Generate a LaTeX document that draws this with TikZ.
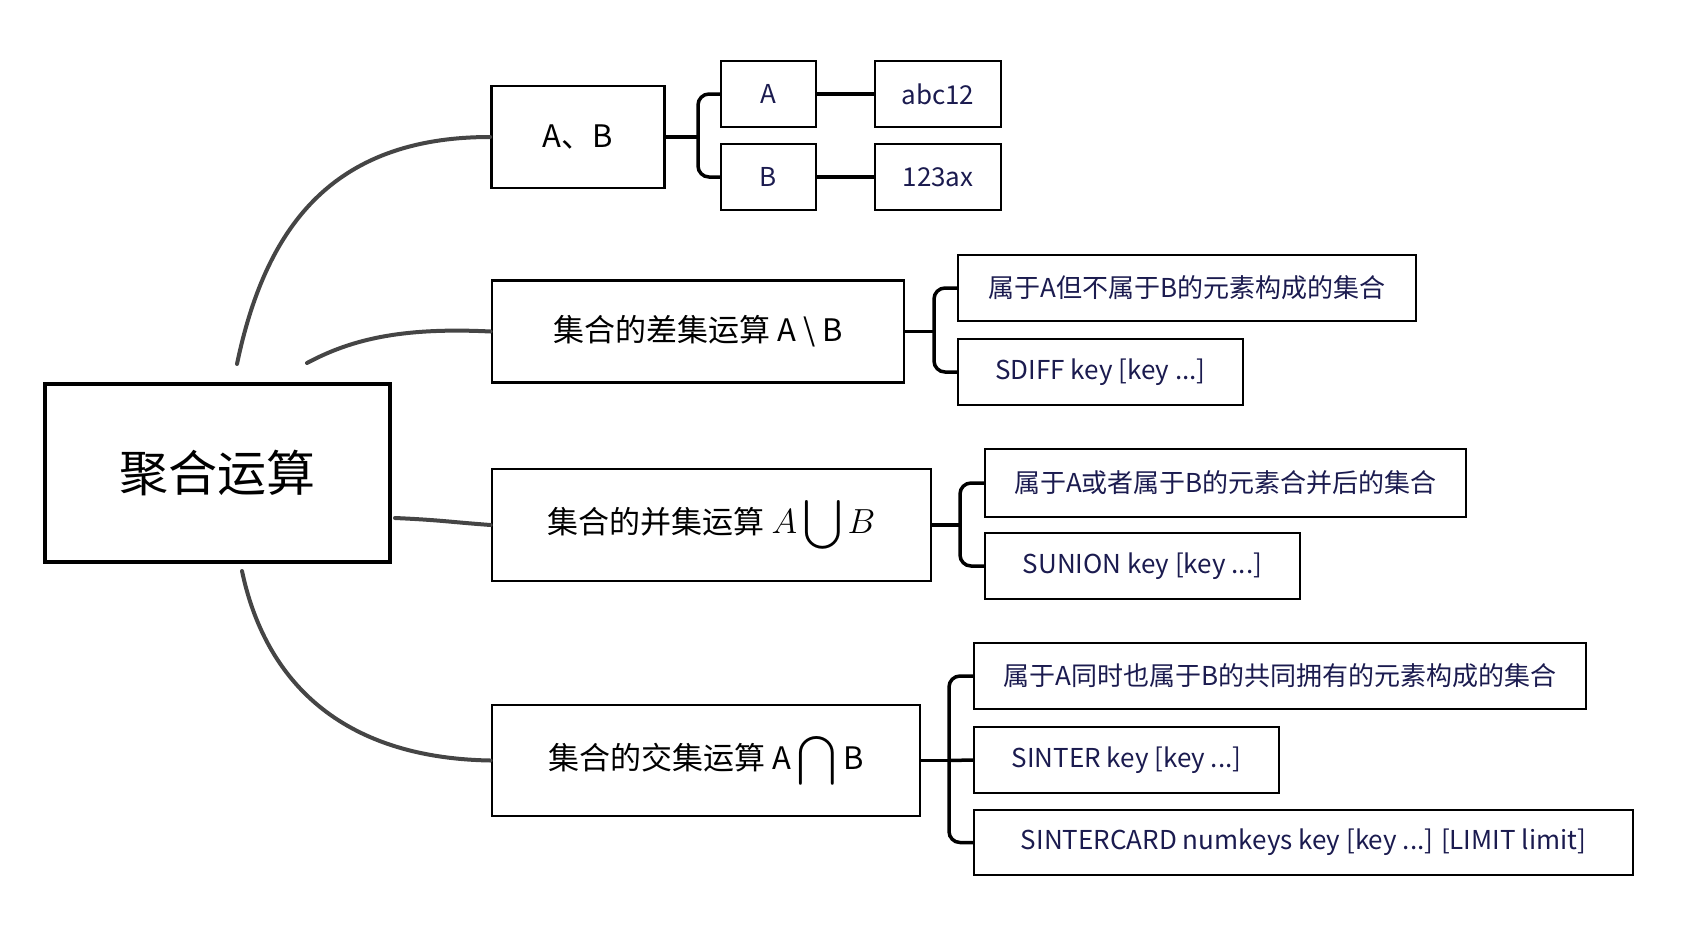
\documentclass[tikz,border=0pt]{standalone}
\usepackage{amsmath}
\usepackage{fontspec}
\setmainfont{Noto Sans CJK SC}
\definecolor{inkblue}{HTML}{1B1B4F}
\definecolor{branchgray}{HTML}{454545}
\tikzset{
  rootbox/.style={draw, line width=4.5pt, minimum width=345pt, minimum height=178pt, inner sep=0pt, font=\fontsize{49}{56}\selectfont},
  opbox/.style={draw, line width=2.8pt, minimum height=102pt, inner sep=0pt, font=\fontsize{31}{36}\selectfont},
  leafbox/.style={draw, line width=2.2pt, minimum height=66pt, inner sep=0pt, text=inkblue, font=\fontsize{26}{30}\selectfont},
  branch/.style={draw=branchgray, line width=4pt, line cap=round},
  brace/.style={draw, line width=3.5pt, rounded corners=11pt},
}
\newcommand\bigop[1]{\scalebox{1.4}{$#1$}}

\begin{document}
\begin{tikzpicture}[x=1pt, y=-1pt]
\useasboundingbox (0,0) rectangle (1688,932);
% root
\node[rootbox] (root) at (217.5,473) {聚合运算};
% operations
\node[opbox, minimum width=173pt] (ab) at (578,137) {A、B};
\node[opbox, minimum width=412pt] (diff) at (698,331.5) {集合的差集运算 A \textbackslash{} B};
\node[opbox, minimum width=439pt, minimum height=112pt] (union) at (711.5,525) {集合的并集运算 \bigop{A\displaystyle\bigcup B}};
\node[opbox, minimum width=428pt, minimum height=111pt] (inter) at (706,760.5) {集合的交集运算 A \bigop{\displaystyle\bigcap} B};
% leaves
\node[leafbox, minimum width=95pt] (a) at (768.5,94) {A};
\node[leafbox, minimum width=95pt] (b) at (768.5,177) {B};
\node[leafbox, minimum width=126pt] (abc) at (938,94) {abc12};
\node[leafbox, minimum width=126pt] (ax) at (938,177) {123ax};
\node[leafbox, minimum width=458pt] (diffdesc) at (1187,288) {属于A但不属于B的元素构成的集合};
\node[leafbox, minimum width=285pt] (diffcmd) at (1100.5,372) {SDIFF key [key ...]};
\node[leafbox, minimum width=481pt, minimum height=68pt] (unidesc) at (1225.5,483) {属于A或者属于B的元素合并后的集合};
\node[leafbox, minimum width=315pt] (unicmd) at (1142.5,566) {SUNION key [key ...]};
\node[leafbox, minimum width=612pt] (intdesc) at (1280,676) {属于A同时也属于B的共同拥有的元素构成的集合};
\node[leafbox, minimum width=305pt] (intcmd) at (1126.5,760) {SINTER key [key ...]};
\node[leafbox, minimum width=659pt, minimum height=65pt] (intcard) at (1303.5,842.5) {SINTERCARD numkeys key [key ...] [LIMIT limit]};

% branches from the root
\coordinate (r1) at (237,364);
\coordinate (r2) at (307,363);
\coordinate (r3) at (395,518);
\coordinate (r4) at (242,571);
\draw[branch] (r1) .. controls (265,230) and (330,137) .. (ab.west);
\draw[branch] (r2) .. controls (350,340) and (400,327) .. (diff.west);
\draw[branch] (r3) .. controls (440,520) and (450,522) .. (union.west);
\draw[branch] (r4) .. controls (265,680) and (340,758) .. (inter.west);

% brackets
\coordinate (abj) at (698,137);
\coordinate (dj) at (934,331.5);
\coordinate (uj) at (960,525);
\coordinate (ij) at (949,760.5);
\draw[brace] (ab.east) -- (abj);
\draw[brace] (a.west) -| (abj) |- (b.west);
\draw[brace] (diff.east) -- (dj);
\draw[brace] (diffdesc.west) -| (dj) |- (diffcmd.west);
\draw[brace] (union.east) -- (uj);
\draw[brace] (unidesc.west) -| (uj) |- (unicmd.west);
\draw[brace] (inter.east) -- (ij);
\draw[brace] (intdesc.west) -| (ij) |- (intcard.west);
\draw[brace] (ij) -- (intcmd.west);
\draw[brace] (a.east) -- (abc.west);
\draw[brace] (b.east) -- (ax.west);
\end{tikzpicture}
\end{document}
